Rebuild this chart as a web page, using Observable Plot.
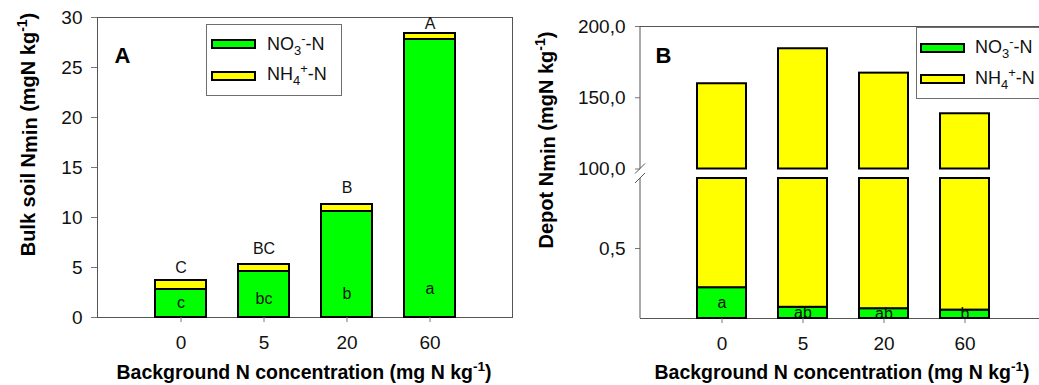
<!DOCTYPE html>
<html>
<head>
<meta charset="utf-8">
<script src="https://cdn.jsdelivr.net/npm/d3@7"></script>
<script src="https://cdn.jsdelivr.net/npm/@observablehq/plot@0.6"></script>
<style>
  html, body { margin: 0; padding: 0; background: #fff; }
  #chart { position: relative; width: 1039px; height: 385px; overflow: hidden;
           font-family: "Liberation Sans", Arial, sans-serif; color: #111; }
  #chart svg { position: absolute; top: 0; }
  .legend { position: absolute; border: 1px solid #6e6e6e; background: #fff; box-sizing: border-box; }
  .legend .sw { position: absolute; width: 45px; height: 10px; border: 2px solid #000; box-sizing: border-box; }
  .legend .lab { position: absolute; font-size: 18px; line-height: 1; white-space: nowrap; transform: translateY(-50%); }
  .legend sub, .legend sup { font-size: 0.72em; line-height: 0; }
</style>
</head>
<body>
<div id="chart"></div>
<script>
// Background N treatments (mg N kg-1) and the two mineral N forms
const categories = ["0", "5", "20", "60"];
const seriesNames = ["NO3-N", "NH4-N"];
const seriesColors = ["#00ff00", "#ffff00"];

// Panel A: bulk soil Nmin (mg N kg-1)
const bulkNO3 = [2.8, 4.6, 10.6, 27.8];
const bulkNH4 = [0.9, 0.7, 0.7, 0.6];
const bulkTotalLetters = ["C", "BC", "B", "A"];
const bulkTotalLetterY = [5.0, 6.9, 13.0, 29.4];
const bulkNO3Letters = ["c", "bc", "b", "a"];
const bulkNO3LetterY = [1.5, 1.9, 2.4, 2.9];
const bulkTicks = [0, 5, 10, 15, 20, 25, 30];

// Panel B: depot Nmin (mg N kg-1), drawn on a broken axis
const depotNO3 = [0.22, 0.08, 0.07, 0.06];
const depotNH4 = [159.6, 184.3, 167.2, 138.7];
const depotNO3Letters = ["a", "ab", "ab", "b"];
const depotUpperDomain = [100, 200];
const depotLowerDomain = [0, 1];
const depotUpperTicks = [100, 150, 200];
const depotLowerTicks = [0.5];

const fontFamily = '"Liberation Sans", Arial, sans-serif';
const axisGray = "#555";
const tickGray = "#777";
const textColor = "#111";
const commaFormat = d => d.toFixed(1).replace(".", ",");

// Stacked segments (NO3 at the bottom, NH4 on top), clipped to a y window
function stackRows(no3, nh4, lo, hi) {
  const rows = [];
  categories.forEach((cat, i) => {
    const parts = [[0, no3[i]], [no3[i], no3[i] + nh4[i]]];
    parts.forEach(([a, b], k) => {
      const y1 = Math.max(a, lo), y2 = Math.min(b, hi);
      if (y2 > y1) rows.push({cat, series: seriesNames[k], y1, y2});
    });
  });
  return rows;
}

const baseStyle = {fontFamily, fontSize: "19px", color: textColor, background: "transparent", overflow: "visible"};
const colorScale = {domain: seriesNames, range: seriesColors};
const barStyle = {stroke: "#000", strokeWidth: 2};

// ---------- Panel A ----------
const plotA = Plot.plot({
  width: 520, height: 385,
  marginLeft: 97, marginRight: 8, marginTop: 17, marginBottom: 68,
  style: baseStyle,
  x: {type: "band", domain: categories, paddingInner: 0.386, paddingOuter: 0.693},
  y: {domain: [0, 30]},
  color: colorScale,
  marks: [
    Plot.frame({stroke: axisGray}),
    Plot.barY(stackRows(bulkNO3, bulkNH4, -Infinity, Infinity), {x: "cat", y1: "y1", y2: "y2", fill: "series", ...barStyle}),
    Plot.axisY({ticks: bulkTicks, tickSize: 6, tickPadding: 9, stroke: tickGray, fill: textColor, label: null}),
    Plot.axisX({tickSize: 5, tickPadding: 13, stroke: tickGray, fill: textColor, label: null}),
    Plot.text(categories, {x: d => d, y: (d, i) => bulkTotalLetterY[i], text: (d, i) => bulkTotalLetters[i], fontSize: 16, fill: textColor}),
    Plot.text(categories, {x: d => d, y: (d, i) => bulkNO3LetterY[i], text: (d, i) => bulkNO3Letters[i], fontSize: 16, fill: textColor}),
    Plot.text(["A"], {frameAnchor: "top-left", dx: 25, dy: 38, text: d => d, fontSize: 22, fontWeight: "bold", textAnchor: "middle", lineAnchor: "middle", fill: "#000"})
  ]
});

// ---------- Panel B, upper segment (100–200) ----------
const xB = {type: "band", domain: categories, paddingInner: 0.397, paddingOuter: 0.6985};
const plotBUpper = Plot.plot({
  width: 540, height: 385,
  marginLeft: 120, marginRight: 14, marginTop: 26, marginBottom: 216.5,
  style: baseStyle,
  x: {...xB, axis: null},
  y: {domain: depotUpperDomain},
  color: colorScale,
  marks: [
    Plot.ruleY([depotUpperDomain[1]], {stroke: axisGray}),
    Plot.barY(stackRows(depotNO3, depotNH4, ...depotUpperDomain), {x: "cat", y1: "y1", y2: "y2", fill: "series", ...barStyle}),
    Plot.axisY({ticks: depotUpperTicks, tickFormat: commaFormat, tickSize: 5, tickPadding: 10, stroke: tickGray, fill: textColor, label: null}),
    Plot.text(["B"], {frameAnchor: "top-left", dx: 23, dy: 29, text: d => d, fontSize: 22, fontWeight: "bold", textAnchor: "middle", lineAnchor: "middle", fill: "#000"})
  ]
});

// ---------- Panel B, lower segment (0–1) ----------
const plotBLower = Plot.plot({
  width: 540, height: 385,
  marginLeft: 120, marginRight: 14, marginTop: 178, marginBottom: 67,
  style: baseStyle,
  x: xB,
  y: {domain: depotLowerDomain},
  color: colorScale,
  marks: [
    Plot.ruleY([0], {stroke: axisGray}),
    Plot.barY(stackRows(depotNO3, depotNH4, ...depotLowerDomain), {x: "cat", y1: "y1", y2: "y2", fill: "series", ...barStyle}),
    Plot.axisY({ticks: depotLowerTicks, tickFormat: commaFormat, tickSize: 5, tickPadding: 10, stroke: tickGray, fill: textColor, label: null}),
    Plot.axisX({tickSize: 5, tickPadding: 13, stroke: tickGray, fill: textColor, label: null}),
    Plot.text(categories, {x: d => d, y: (d, i) => depotNO3[i] / 2, text: (d, i) => depotNO3Letters[i], fontSize: 16, fill: textColor, lineAnchor: "middle"})
  ]
});

const chart = document.getElementById("chart");
plotA.style.left = "0px";
plotBUpper.style.left = "520px";
plotBLower.style.left = "520px";
chart.append(plotA, plotBUpper, plotBLower);

// Left axis line of each B segment, plus the break marks between them
function leftEdge(plot) {
  const x = plot.scale("x").range[0];
  const [yb, yt] = plot.scale("y").range;
  d3.select(plot).append("line")
    .attr("x1", x).attr("x2", x).attr("y1", yb).attr("y2", yt)
    .attr("stroke", axisGray);
  return {x, yb, yt};
}
const up = leftEdge(plotBUpper);
const lo = leftEdge(plotBLower);
for (const [svg, y] of [[plotBUpper, up.yb], [plotBLower, lo.yt]]) {
  d3.select(svg).append("line")
    .attr("x1", up.x - 5).attr("y1", y + 5).attr("x2", up.x + 5).attr("y2", y - 5)
    .attr("stroke", axisGray);
}

// Axis titles with sub- and superscripts
function richText(sel, parts, size) {
  let shift = 0;
  for (const [str, kind] of parts) {
    const target = kind === "sub" ? 0.12 * size : kind === "sup" ? -0.42 * size : 0;
    sel.append("tspan").text(str)
      .attr("dy", target - shift)
      .attr("font-size", kind === "sup" ? size * 0.7 : size);
    shift = target;
  }
}
function title(svg, {x, y, rotate = 0, parts, size}) {
  const t = d3.select(svg).append("text")
    .attr("transform", `translate(${x},${y}) rotate(${rotate})`)
    .attr("text-anchor", "middle")
    .attr("font-weight", "bold")
    .attr("font-family", fontFamily)
    .attr("fill", "#000");
  richText(t, parts, size);
}
const xTitle = [["Background N concentration (mg N kg", ""], ["-1", "sup"], [")", ""]];
title(plotA, {x: 304, y: 379, parts: xTitle, size: 19.5});
title(plotBLower, {x: 322, y: 379, parts: xTitle, size: 19.5});
title(plotA, {x: 35, y: 134.5, rotate: -90, size: 20,
  parts: [["Bulk soil N", ""], ["min", "sub"], [" (mgN kg", ""], ["-1", "sup"], [")", ""]]});
title(plotBUpper, {x: 33, y: 140, rotate: -90, size: 20,
  parts: [["Depot N", ""], ["min", "sub"], [" (mgN kg", ""], ["-1", "sup"], [")", ""]]});

// Legends
function legend(left, top, width, swLeft, swTops, labLeft, labCenters) {
  const box = document.createElement("div");
  box.className = "legend";
  Object.assign(box.style, {left: left + "px", top: top + "px", width: width + "px", height: "72px"});
  const labels = ["NO<sub>3</sub><sup>-</sup>-N", "NH<sub>4</sub><sup>+</sup>-N"];
  seriesColors.forEach((c, i) => {
    const sw = document.createElement("div");
    sw.className = "sw";
    Object.assign(sw.style, {left: swLeft + "px", top: swTops[i] + "px", background: c});
    const lab = document.createElement("div");
    lab.className = "lab";
    lab.innerHTML = labels[i];
    Object.assign(lab.style, {left: labLeft + "px", top: labCenters[i] + "px"});
    box.append(sw, lab);
  });
  chart.append(box);
}
legend(206, 24, 136, 4, [14, 46], 60, [19, 49]);
legend(916, 27, 140, 3, [15, 46], 58, [19, 50]);
</script>
</body>
</html>
